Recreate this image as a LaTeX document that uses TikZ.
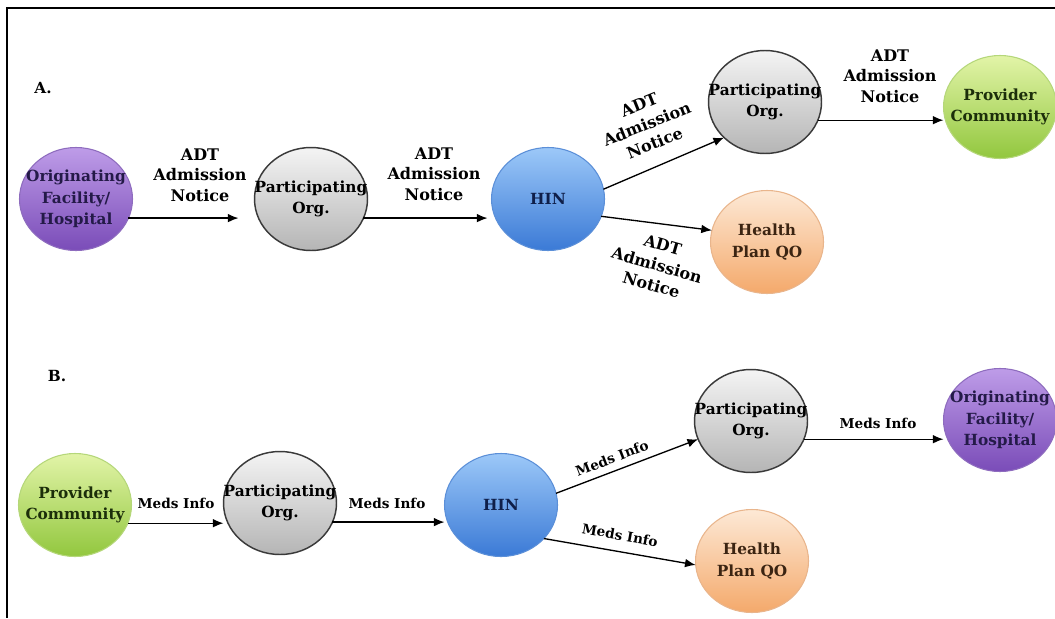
\documentclass[tikz,border=0pt]{standalone}
\usepackage{fontspec}
\setmainfont{DejaVu Serif}
\usetikzlibrary{arrows.meta,shapes.geometric}

\definecolor{purpleTop}{HTML}{BE9CE8}
\definecolor{purpleBot}{HTML}{7A4CB8}
\definecolor{purpleEdge}{HTML}{8E6CBE}
\definecolor{purpleInk}{HTML}{241A48}
\definecolor{greyTop}{HTML}{F4F4F4}
\definecolor{greyBot}{HTML}{B5B5B5}
\definecolor{greyEdge}{HTML}{3A3A3A}
\definecolor{blueTop}{HTML}{9CC8F8}
\definecolor{blueBot}{HTML}{3B7AD6}
\definecolor{blueEdge}{HTML}{5B8FD8}
\definecolor{blueInk}{HTML}{0F1F4A}
\definecolor{greenTop}{HTML}{E2F4A8}
\definecolor{greenBot}{HTML}{92C73E}
\definecolor{greenEdge}{HTML}{B5D77A}
\definecolor{greenInk}{HTML}{1C2E0A}
\definecolor{orangeTop}{HTML}{FDE9D6}
\definecolor{orangeBot}{HTML}{F4A96B}
\definecolor{orangeEdge}{HTML}{E9B58C}
\definecolor{orangeInk}{HTML}{3B2412}

\begin{document}
\begin{tikzpicture}[x=0.75pt,y=-0.75pt,
  bubble/.style={ellipse, minimum width=84.75pt, minimum height=77.25pt,
    inner sep=0pt, outer sep=0pt, line width=0.8pt},
  txt/.style={font=\bfseries\fontsize{11.5}{16}\selectfont, align=center, inner sep=0pt},
  flowtxt/.style={font=\bfseries\fontsize{12}{15.5}\selectfont, align=center, inner sep=0pt},
  medstxt/.style={font=\bfseries\fontsize{10.2}{12}\selectfont, inner sep=0pt},
  secmark/.style={font=\bfseries\fontsize{11.5}{13}\selectfont, inner sep=0pt},
  purplebub/.style={bubble, draw=purpleEdge, top color=purpleTop, bottom color=purpleBot},
  greybub/.style={bubble, draw=greyEdge, line width=1.1pt, top color=greyTop, bottom color=greyBot},
  bluebub/.style={bubble, draw=blueEdge, top color=blueTop, bottom color=blueBot},
  greenbub/.style={bubble, draw=greenEdge, top color=greenTop, bottom color=greenBot},
  orangebub/.style={bubble, draw=orangeEdge, top color=orangeTop, bottom color=orangeBot},
  flow/.style={-{Latex[length=8pt,width=6.5pt]}, line width=1pt, black},
  frameline/.style={line width=2.2pt, black}
]
\useasboundingbox (0,0) rectangle (1055,618);

% frame edges
\coordinate (frameTL) at (7,8);
\coordinate (frameTR) at (1055,8);
\coordinate (frameBL) at (7,618);
\draw[frameline] (frameTR) -- (frameTL) -- (frameBL);

% ---------------- A: admission notice ----------------
\node[secmark] (markA) at (43,88) {A.};

\node[purplebub, label={[name=origAT, txt, text=purpleInk]center:Originating\\Facility/\\Hospital}] (origA) at (76,199) {};
\node[greybub, label={[name=partA1T, txt]center:Participating\\Org.}] (partA1) at (311,199) {};
\node[bluebub, label={[name=hinAT, txt, text=blueInk]center:HIN}] (hinA) at (548,199) {};
\node[greybub, label={[name=partA2T, txt]center:Participating\\Org.}] (partA2) at (765,102) {};
\node[greenbub, label={[name=provAT, txt, text=greenInk]center:Provider\\Community}] (provA) at (1000,107) {};
\node[orangebub, label={[name=planAT, txt, text=orangeInk]center:Health\\Plan QO}] (planA) at (767,242) {};

\draw[flow, shorten >=12pt] (origA.-20) -- (origA.-20 -| partA1.west);
\draw[flow, shorten >=3pt] (partA1.-20) -- (partA1.-20 -| hinA.west);
\draw[flow] (hinA.10) -- (partA2.221);
\draw[flow] (hinA.-18) -- (planA.168);
\draw[flow] (partA2.-19) -- (partA2.-19 -| provA.west);

\node[flowtxt] (lblA1) at (200,175) {ADT\\Admission\\Notice};
\node[flowtxt] (lblA2) at (434,174) {ADT\\Admission\\Notice};
\node[flowtxt, rotate=22] (lblA3) at (647,124) {ADT\\Admission\\Notice};
\node[flowtxt, rotate=-16] (lblA4) at (657,265) {ADT\\Admission\\Notice};
\node[flowtxt] (lblA5) at (890,76) {ADT\\Admission\\Notice};

% ---------------- B: medication information ----------------
\node[secmark] (markB) at (57,376) {B.};

\node[greenbub, label={[name=provBT, txt, text=greenInk]center:Provider\\Community}] (provB) at (75,505) {};
\node[greybub, label={[name=partB1T, txt]center:Participating\\Org.}] (partB1) at (280,503) {};
\node[bluebub, label={[name=hinBT, txt, text=blueInk]center:HIN}] (hinB) at (501,505) {};
\node[greybub, label={[name=partB2T, txt]center:Participating\\Org.}] (partB2) at (751,421) {};
\node[purplebub, label={[name=origBT, txt, text=purpleInk]center:Originating\\Facility/\\Hospital}] (origB) at (1000,420) {};
\node[orangebub, label={[name=planBT, txt, text=orangeInk]center:Health\\Plan QO}] (planB) at (752,561) {};

\draw[flow] (provB.-19) -- (provB.-19 -| partB1.west);
\draw[flow] (partB1.-20) -- (partB1.-20 -| hinB.west);
\draw[flow] (hinB.12) -- (partB2.199);
\draw[flow] (hinB.-38) -- (planB.184);
\draw[flow] (partB2.-19) -- (partB2.-19 -| origB.west);

\node[medstxt] (lblB1) at (176,503) {Meds Info};
\node[medstxt] (lblB2) at (387,503) {Meds Info};
\node[medstxt, rotate=21] (lblB3) at (612,458) {Meds Info};
\node[medstxt, rotate=-10] (lblB4) at (620,535) {Meds Info};
\node[medstxt] (lblB5) at (878,423) {Meds Info};
\end{tikzpicture}
\end{document}
